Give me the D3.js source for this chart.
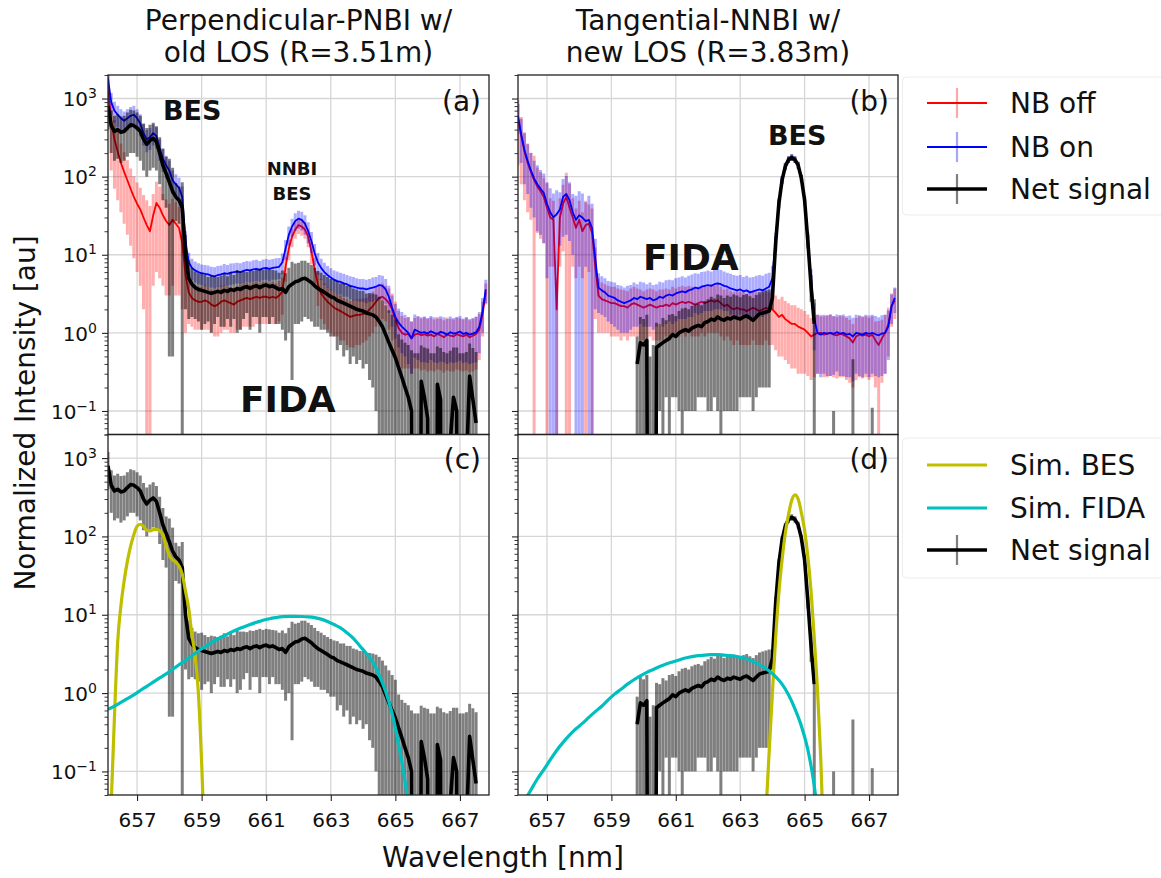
<!DOCTYPE html>
<html>
<head>
<meta charset="utf-8">
<script src="https://cdnjs.cloudflare.com/ajax/libs/d3/7.8.5/d3.min.js"></script>
<style>
  body { margin: 0; background: #fff; }
  svg text { font-family: "DejaVu Sans", sans-serif; fill: #111; }
</style>
</head>
<body>
<svg id="fig" width="1161" height="878"></svg>
<script>
// ---------------------------------------------------------------
// Spectral data (wavelength grid in nm, intensities in a.u.)
// ---------------------------------------------------------------
const wavelength = [
  656.1, 656.2, 656.3, 656.4, 656.5, 656.6, 656.7, 656.8, 656.9, 657.0,
  657.1, 657.2, 657.3, 657.4, 657.5, 657.6, 657.7, 657.8, 657.9, 658.0,
  658.1, 658.2, 658.3, 658.4, 658.5, 658.6, 658.7, 658.8, 658.9, 659.0,
  659.1, 659.2, 659.3, 659.4, 659.5, 659.6, 659.7, 659.8, 659.9, 660.0,
  660.1, 660.2, 660.3, 660.4, 660.5, 660.6, 660.7, 660.8, 660.9, 661.0,
  661.1, 661.2, 661.3, 661.4, 661.5, 661.6, 661.7, 661.8, 661.9, 662.0,
  662.1, 662.2, 662.3, 662.4, 662.5, 662.6, 662.7, 662.8, 662.9, 663.0,
  663.1, 663.2, 663.3, 663.4, 663.5, 663.6, 663.7, 663.8, 663.9, 664.0,
  664.1, 664.2, 664.3, 664.4, 664.5, 664.6, 664.7, 664.8, 664.9, 665.0,
  665.1, 665.2, 665.3, 665.4, 665.5, 665.6, 665.7, 665.8, 665.9, 666.0,
  666.1, 666.2, 666.3, 666.4, 666.5, 666.6, 666.7, 666.8, 666.9, 667.0,
  667.1, 667.2, 667.3, 667.4, 667.5, 667.6, 667.7, 667.8
];

// Perpendicular-PNBI view, old LOS (R=3.51m)
const nbOffPerp = [
  1500, 500, 300, 210, 150, 115, 90, 70, 55, 45,
  38, 30, 24, 20, 32, 46, 40, 32, 27, 24,
  28, 25, 22, 14, 5.5, 3.3, 2.8, 2.6, 2.5, 2.5,
  2.6, 2.5, 2.3, 2.2, 2.3, 2.5, 2.6, 2.5, 2.4, 2.3,
  2.5, 2.6, 2.7, 2.8, 2.7, 2.8, 2.9, 2.8, 2.9, 2.9,
  2.8, 2.9, 2.8, 3.0, 3.4, 7, 12, 17, 21, 24,
  23, 21, 17, 11, 6.5, 4.2, 3.2, 2.8, 2.5, 2.3,
  2.1, 2.0, 1.9, 1.8, 1.7, 1.6, 1.65, 1.7, 1.7, 1.75,
  1.8, 2.0, 2.2, 2.5, 2.8, 2.9, 2.7, 2.4, 2.0, 1.5,
  1.15, 1.0, 0.95, 0.97, 0.85, 0.95, 0.98, 0.93, 0.96, 0.92,
  0.95, 0.9, 0.97, 0.93, 0.88, 0.95, 0.92, 0.9, 0.96, 0.93,
  0.9, 0.95, 0.88, 0.92, 0.97, 1.1, 1.7, 3.3
];
const nbOffPerpErr = [
  700, 380, 230, 160, 115, 90, 72, 57, 46, 39,
  34, 28, 26, 22, 28, 40, 35, 28, 24, 21,
  24, 22, 19, 12, 4.5, 2.0, 1.6, 1.5, 1.4, 1.4,
  1.5, 1.4, 1.3, 1.3, 1.4, 1.5, 1.5, 1.4, 1.4, 1.3,
  1.4, 1.5, 1.5, 1.6, 1.5, 1.6, 1.6, 1.5, 1.6, 1.6,
  1.5, 1.6, 1.5, 1.6, 1.7, 2.5, 3.5, 4.5, 5, 5.5,
  5.5, 5, 4.5, 3.5, 2.5, 2, 1.7, 1.5, 1.4, 1.3,
  1.2, 1.1, 1.1, 1.0, 1.0, 0.95, 1.0, 1.0, 1.0, 1.0,
  1.0, 1.1, 1.2, 1.3, 1.4, 1.4, 1.3, 1.3, 1.2, 1.0,
  0.75, 0.65, 0.6, 0.62, 0.55, 0.6, 0.63, 0.6, 0.62, 0.6,
  0.62, 0.58, 0.63, 0.6, 0.57, 0.62, 0.6, 0.58, 0.62, 0.6,
  0.58, 0.62, 0.57, 0.6, 0.63, 0.65, 0.8, 1.0
];
const nbOnPerp = [
  1800, 900, 700, 620, 560, 520, 560, 600, 620, 560,
  480, 360, 300, 320, 360, 330, 230, 170, 140, 120,
  90, 80, 72, 55, 15, 8, 6.8, 6.3, 6.0, 5.8,
  5.7, 5.6, 5.4, 5.3, 5.5, 5.6, 5.8, 5.7, 5.9, 6.0,
  6.1, 6.0, 6.2, 6.4, 6.3, 6.5, 6.6, 6.4, 6.7, 6.8,
  6.6, 6.8, 6.9, 7.0, 8, 12, 18, 23, 27, 29,
  28, 25, 20, 15, 10.5, 8, 6.8, 6.0, 5.5, 5.1,
  4.8, 4.6, 4.5, 4.3, 4.2, 4.0, 3.9, 3.8, 3.7, 3.7,
  3.6, 3.7, 3.8, 3.9, 4.1, 4.0, 3.6, 2.9, 2.1, 1.6,
  1.35, 1.2, 1.1, 1.0, 0.85, 1.1, 1.05, 1.0, 1.02, 0.98,
  1.05, 1.0, 0.97, 1.03, 1.0, 0.95, 1.02, 0.98, 1.0, 1.04,
  0.97, 1.0, 0.95, 0.98, 1.02, 1.2, 1.9, 3.6
];
const nbOnPerpErr = [
  600, 280, 210, 190, 170, 160, 170, 180, 190, 170,
  150, 110, 95, 100, 110, 100, 70, 55, 45, 40,
  30, 27, 25, 20, 5, 2.6, 2.1, 1.9, 1.8, 1.7,
  1.7, 1.7, 1.6, 1.6, 1.7, 1.7, 1.8, 1.7, 1.8, 1.8,
  1.8, 1.8, 1.9, 1.9, 1.9, 2.0, 2.0, 1.9, 2.0, 2.0,
  2.0, 2.0, 2.1, 2.1, 2.4, 3.5, 5, 6, 7, 7.5,
  7.5, 7, 6, 4.5, 3.2, 2.5, 2.1, 1.9, 1.7, 1.6,
  1.5, 1.5, 1.4, 1.4, 1.3, 1.3, 1.3, 1.2, 1.2, 1.2,
  1.2, 1.2, 1.3, 1.3, 1.4, 1.4, 1.3, 1.1, 0.9, 0.75,
  0.7, 0.65, 0.6, 0.6, 0.55, 0.62, 0.6, 0.58, 0.6, 0.57,
  0.6, 0.58, 0.56, 0.6, 0.58, 0.55, 0.6, 0.57, 0.58, 0.6,
  0.56, 0.58, 0.55, 0.57, 0.6, 0.65, 0.9, 1.2
];
const netPerp = [
  800, 450, 380, 400, 370, 380, 420, 460, 450, 420,
  380, 300, 260, 290, 310, 280, 200, 140, 110, 85,
  65, 55, 50, 40, 10, 5, 4.2, 3.8, 3.6, 3.5,
  3.4, 3.3, 3.2, 3.3, 3.4, 3.3, 3.5, 3.4, 3.6, 3.5,
  3.7, 3.6, 3.8, 3.9, 3.7, 3.9, 4.0, 3.8, 4.0, 4.1,
  3.9, 4.0, 3.8, 3.6, 3.7, 3.3, 3.9, 4.2, 4.5, 4.6,
  4.9, 5.0, 4.7, 4.4, 4.0, 3.7, 3.5, 3.3, 3.1, 2.9,
  2.8, 2.6, 2.5, 2.4, 2.3, 2.2, 2.1, 2.0, 1.95, 1.9,
  1.8, 1.75, 1.7, 1.6, 1.4, 1.2, 0.95, 0.75, 0.6, 0.48,
  0.36, 0.27, 0.2, 0.15, 0.1, -0.05, -0.1, 0.24, 0.15, 0.08,
  -0.1, -0.05, 0.22, 0.14, -0.08, -0.05, 0.04, 0.15, 0.1, -0.1,
  -0.05, 0.02, 0.28, 0.14, 0.07, null, null, null
];
const netPerpErr = [
  400, 250, 220, 230, 220, 220, 240, 260, 250, 240,
  220, 180, 160, 170, 180, 160, 120, 90, 70, 84.5,
  64.5, 28, 25, 45, 8, 3.5, 2.6, 2.3, 2.2, 2.4,
  2.1, 1.9, 2.2, 2.0, 1.8, 2.1, 2.3, 1.9, 2.4, 2.0,
  2.7, 2.5, 2.3, 2.1, 2.6, 2.3, 2.4, 2.8, 2.4, 2.5,
  2.6, 2.4, 2.5, 2.3, 2.6, 2.5, 2.9, 3.95, 3.2, 3.3,
  3.5, 3.4, 3.2, 3.0, 2.8, 2.5, 2.4, 2.2, 2.1, 2.0,
  1.9, 2.0, 1.8, 1.9, 1.7, 1.8, 1.6, 1.6, 1.5, 1.55,
  1.4, 1.5, 1.5, 1.5, 1.5, 1.4, 1.3, 1.2, 1.1, 1.0,
  0.6, 0.55, 0.55, 0.55, 0.5, 0.6, 0.65, 0.45, 0.5, 0.55,
  0.65, 0.6, 0.45, 0.5, 0.65, 0.6, 0.55, 0.5, 0.55, 0.65,
  0.6, 0.55, 0.45, 0.5, 0.5, null, null, null
];

// Tangential-NNBI view, new LOS (R=3.83m)
const nbOffTang = [
  550, 330, 210, 150, 115, 90, 75, 65, 55, 40,
  30, 28, 2.0, 30, 45, 55, 40, 30, 22, 28,
  20, 24, 25, 19, 7, 3.0, 2.7, 2.6, 2.5, 2.4,
  2.4, 2.3, 2.2, 2.2, 2.1, 2.3, 2.4, 2.3, 2.2, 2.1,
  2.2, 2.3, 2.2, 2.1, 2.2, 2.2, 2.3, 2.2, 2.4, 2.3,
  2.4, 2.5, 2.4, 2.5, 2.4, 2.3, 2.4, 2.5, 2.4, 2.5,
  2.6, 2.5, 2.6, 2.4, 2.2, 2.3, 2.1, 2.0, 2.1, 2.0,
  2.0, 1.9, 2.0, 2.1, 2.0, 1.9, 2.0, 2.1, 2.0, 2.0,
  1.8, 1.6, 1.7, 1.5, 1.4, 1.3, 1.3, 1.2, 1.15, 1.1,
  1.0, 0.9, 0.95, 1.0, 1.0, 0.95, 0.97, 1.0, 0.95, 0.93,
  0.97, 0.95, 0.9, 0.85, 0.75, 0.9, 0.95, 0.92, 0.95, 0.9,
  0.95, 0.8, 0.7, 0.85, 1.0, 1.3, 2.2, 2.6
];
const nbOffTangErr = [
  410, 250, 160, 115, 87, 95, 56, 49, 41, 42,
  23, 21, 3.0, 23, 34, 57, 41, 23, 17, 21,
  15, 25, 19, 20, 5.5, 2.0, 1.7, 1.6, 1.5, 1.5,
  1.5, 1.4, 1.4, 1.3, 1.3, 1.4, 1.5, 1.4, 1.4, 1.3,
  1.4, 1.4, 1.4, 1.3, 1.4, 1.4, 1.4, 1.4, 1.5, 1.4,
  1.5, 1.5, 1.5, 1.5, 1.5, 1.4, 1.5, 1.5, 1.5, 1.5,
  1.6, 1.5, 1.6, 1.5, 1.4, 1.4, 1.3, 1.3, 1.3, 1.3,
  1.3, 1.2, 1.3, 1.3, 1.3, 1.2, 1.3, 1.3, 1.3, 1.3,
  1.2, 1.1, 1.2, 1.05, 1.0, 0.95, 0.95, 0.9, 0.85, 0.8,
  0.72, 0.65, 0.68, 0.7, 0.7, 0.68, 0.7, 0.72, 0.68, 0.67,
  0.7, 0.68, 0.65, 0.62, 0.55, 0.65, 0.68, 0.66, 0.68, 0.65,
  0.68, 0.6, 0.72, 0.62, 0.7, 0.8, 1.0, 1.1
];
const nbOnTang = [
  600, 350, 220, 160, 120, 95, 80, 70, 62, 45,
  35, 30, 33, 38, 55, 60, 50, 35, 28, 32,
  30, 27, 28, 22, 9, 3.8, 3.5, 3.3, 3.0, 2.9,
  2.8, 2.6, 2.5, 2.4, 2.5, 2.6, 2.8, 2.7, 2.9, 2.8,
  2.7, 2.8, 2.6, 2.7, 2.9, 2.8, 3.0, 3.1, 3.0, 3.2,
  3.3, 3.4, 3.3, 3.5, 3.6, 3.8, 3.7, 3.9, 4.0, 4.1,
  4.0, 4.2, 4.3, 4.2, 4.0, 3.9, 3.7, 3.6, 3.5, 3.6,
  3.4, 3.5, 3.3, 3.4, 3.5, 3.6, 3.5, 3.7, 3.9, 5.0,
  16, 47, 92, 137, 167, 177, 167, 141, 96, 51,
  16, 5, 1.5, 1.0, 0.95, 1.0, 0.98, 1.0, 0.97, 1.02,
  0.98, 1.0, 0.95, 0.97, 0.9, 1.0, 0.98, 0.95, 1.0, 0.97,
  1.0, 0.96, 0.93, 0.98, 1.0, 1.2, 2.2, 2.8
];
const nbOnTangErr = [
  250, 200, 140, 100, 80, 65, 60, 52, 48, 40,
  36, 31, 34, 25, 38, 42, 35, 25, 29, 33,
  31, 20, 29, 23, 7, 2.0, 1.8, 1.7, 1.6, 1.6,
  1.6, 1.5, 1.5, 1.4, 1.5, 1.5, 1.6, 1.5, 1.6, 1.6,
  1.5, 1.6, 1.5, 1.5, 1.6, 1.6, 1.7, 1.7, 1.7, 1.8,
  1.8, 1.9, 1.8, 1.9, 2.0, 2.0, 2.0, 2.1, 2.1, 2.2,
  2.1, 2.2, 2.3, 2.2, 2.1, 2.0, 2.0, 1.9, 1.9, 1.9,
  1.8, 1.9, 1.8, 1.8, 1.9, 1.9, 1.9, 2.0, 2.0, 2.2,
  3, 6, 10, 14, 17, 18, 17, 15, 11, 6,
  3, 1.5, 0.9, 0.7, 0.68, 0.7, 0.7, 0.72, 0.68, 0.7,
  0.7, 0.72, 0.68, 0.7, 0.66, 0.7, 0.7, 0.68, 0.7, 0.7,
  0.7, 0.68, 0.66, 0.7, 0.7, 0.75, 0.9, 1.0
];
const netTang = [
  null, null, null, null, null, null, null, null, null, null,
  null, null, null, null, null, null, null, null, null, null,
  null, null, null, null, null, null, null, null, null, null,
  null, null, null, null, null, null, null, 0.4, 0.75, 0.7,
  0.8, -0.2, -0.1, 0.65, 0.7, 0.75, 0.8, 0.85, 0.95, 0.9,
  1.0, 1.05, 1.1, 1.05, 1.15, 1.2, 1.25, 1.2, 1.35, 1.4,
  1.5, 1.45, 1.6, 1.5, 1.45, 1.55, 1.5, 1.6, 1.55, 1.5,
  1.6, 1.65, 1.55, 1.45, 1.6, 1.75, 1.8, 1.85, 1.9, 2.8,
  14, 45, 90, 135, 165, 175, 165, 140, 95, 50,
  15, 4, 1.3, null, null, null, null, null, -0.2, null,
  null, null, null, null, -0.1, null, null, null, null, null,
  -0.2, null, null, null, null, null, null, null
];
const netTangErr = [
  null, null, null, null, null, null, null, null, null, null,
  null, null, null, null, null, null, null, null, null, null,
  null, null, null, null, null, null, null, null, null, null,
  null, null, null, null, null, null, null, 0.5, 0.85, 0.8,
  0.9, 0.7, 0.8, 0.7, 0.6, 0.8, 0.65, 0.85, 0.8, 0.75,
  0.9, 1.0, 1.0, 0.95, 1.05, 1.1, 1.1, 1.05, 1.2, 1.3,
  1.4, 1.3, 1.5, 1.5, 1.35, 1.45, 1.4, 1.5, 1.45, 1.35,
  1.45, 1.5, 1.4, 1.35, 1.45, 1.55, 1.6, 1.65, 1.7, 0.8,
  3, 6, 10, 14, 16, 17, 16, 14, 10, 6,
  3, 1.5, 1.4, null, null, null, null, null, 0.3, null,
  null, null, null, null, 0.56, null, null, null, null, null,
  0.31, null, null, null, null, null, null, null
];

// Simulated spectra, perpendicular view
const simBesPerpWl = [
  656.2, 656.3, 656.4, 656.5, 656.6, 656.7, 656.8, 656.9, 657.0, 657.1,
  657.2, 657.3, 657.4, 657.5, 657.6, 657.7, 657.8, 657.9, 658.0, 658.1,
  658.2, 658.3, 658.4, 658.5, 658.6, 658.7, 658.8, 658.9, 659.0, 659.1
];
const simBesPerp = [
  0.04, 0.5, 4.5, 13, 27, 48, 75, 105, 135, 143,
  135, 120, 118, 122, 123, 118, 105, 75, 57, 50,
  47, 42, 33, 20, 12, 5.5, 3.0, 1.0, 0.13, 0.01
];
const simFidaPerpWl = [
  656.1, 656.3, 656.5, 656.7, 656.9, 657.1, 657.3, 657.5, 657.7, 657.9,
  658.1, 658.3, 658.5, 658.7, 658.9, 659.1, 659.3, 659.5, 659.7, 659.9,
  660.1, 660.3, 660.5, 660.7, 660.9, 661.1, 661.3, 661.5, 661.7, 661.9,
  662.1, 662.3, 662.5, 662.7, 662.9, 663.1, 663.3, 663.5, 663.7, 663.9,
  664.1, 664.3, 664.5, 664.7, 664.9, 665.1, 665.3, 665.4
];
const simFidaPerp = [
  0.62, 0.68, 0.76, 0.85, 0.95, 1.08, 1.22, 1.38, 1.56, 1.76,
  2.0, 2.3, 2.6, 3.0, 3.45, 3.9, 4.4, 4.9, 5.4, 5.95,
  6.5, 7.0, 7.5, 8.0, 8.5, 8.9, 9.2, 9.45, 9.55, 9.55,
  9.5, 9.4, 9.2, 8.8, 8.2, 7.5, 6.8, 5.9, 5.0, 4.0,
  3.2, 2.5, 1.7, 1.05, 0.55, 0.22, 0.075, 0.04
];

// Simulated spectra, tangential view
const simBesTangWl = [
  663.8, 663.9, 664.0, 664.1, 664.2, 664.3, 664.4, 664.5, 664.6, 664.7,
  664.8, 664.9, 665.0, 665.1, 665.2, 665.3, 665.4, 665.5, 665.6
];
const simBesTang = [
  0.03, 0.18, 1.0, 5, 19, 50, 110, 190, 290, 340,
  300, 200, 120, 55, 20, 5, 1.1, 0.15, 0.01
];
const simFidaTangWl = [
  656.3, 656.5, 656.7, 656.9, 657.1, 657.3, 657.5, 657.7, 657.9, 658.1,
  658.3, 658.5, 658.7, 658.9, 659.1, 659.3, 659.5, 659.7, 659.9, 660.1,
  660.3, 660.5, 660.7, 660.9, 661.1, 661.3, 661.5, 661.7, 661.9, 662.1,
  662.3, 662.5, 662.7, 662.9, 663.1, 663.3, 663.5, 663.7, 663.9, 664.1,
  664.3, 664.5, 664.7, 664.9, 665.1, 665.3, 665.4
];
const simFidaTang = [
  0.042, 0.058, 0.08, 0.105, 0.14, 0.185, 0.235, 0.29, 0.35, 0.41,
  0.49, 0.58, 0.68, 0.82, 0.97, 1.12, 1.3, 1.48, 1.66, 1.84,
  2.0, 2.18, 2.35, 2.5, 2.65, 2.8, 2.92, 3.0, 3.05, 3.1,
  3.1, 3.05, 3.0, 2.92, 2.8, 2.62, 2.42, 2.2, 1.92, 1.62,
  1.3, 0.95, 0.63, 0.38, 0.19, 0.065, 0.03
];

// Axis ticks and labels
const xTickValues = [657, 659, 661, 663, 665, 667];
const yTickValues = [0.1, 1, 10, 100, 1000];
const panelTitles = [
  ["Perpendicular-PNBI w/", "old LOS (R=3.51m)"],
  ["Tangential-NNBI w/", "new LOS (R=3.83m)"]
];
const legendTop = ["NB off", "NB on", "Net signal"];
const legendBottom = ["Sim. BES", "Sim. FIDA", "Net signal"];

// ---------------------------------------------------------------
// Layout and styling
// ---------------------------------------------------------------
const X_DOMAIN = [656.1, 667.9];
const Y_DOMAIN = [0.05, 2000];
const boxes = {
  a: { x0: 108, x1: 489, y0: 75, y1: 434.5 },
  b: { x0: 518, x1: 898, y0: 75, y1: 434.5 },
  c: { x0: 108, x1: 489, y0: 434.5, y1: 795 },
  d: { x0: 518, x1: 898, y0: 434.5, y1: 795 }
};
const COLORS = { off: "#ff0000", on: "#0000ff", net: "#000000", bes: "#bfbf00", fida: "#00bfbf" };
const BAR_W = 3.0;

const yMinorTicks = [];
for (let e = -2; e <= 3; e++) {
  for (let k = 2; k <= 9; k++) {
    const v = k * Math.pow(10, e);
    if (v >= Y_DOMAIN[0] && v <= Y_DOMAIN[1]) yMinorTicks.push(v);
  }
}

const svg = d3.select("#fig");
svg.append("rect").attr("width", 1161).attr("height", 878).attr("fill", "#fff");
const defs = svg.append("defs");

function toPoints(wl, vals, errs) {
  return wl.map((w, i) => ({ w, v: vals[i], e: errs ? errs[i] : null }));
}

function makePanel(key) {
  const b = boxes[key];
  const x = d3.scaleLinear().domain(X_DOMAIN).range([b.x0, b.x1]);
  const y = d3.scaleLog().domain(Y_DOMAIN).range([b.y1, b.y0]);
  const g = svg.append("g").attr("class", "panel-" + key);
  defs.append("clipPath").attr("id", "clip-" + key)
    .append("rect").attr("x", b.x0).attr("y", b.y0)
    .attr("width", b.x1 - b.x0).attr("height", b.y1 - b.y0);

  const grid = g.append("g").attr("stroke", "#d6d6d6").attr("stroke-width", 1.3);
  grid.selectAll(null).data(xTickValues).join("line")
    .attr("x1", d => x(d)).attr("x2", d => x(d)).attr("y1", b.y0).attr("y2", b.y1);
  grid.selectAll(null).data(yTickValues).join("line")
    .attr("x1", b.x0).attr("x2", b.x1).attr("y1", d => y(d)).attr("y2", d => y(d));

  const plot = g.append("g").attr("clip-path", `url(#clip-${key})`);
  return { key, b, x, y, g, plot };
}

function errorBars(p, pts, color, opacity, width) {
  const bottom = p.b.y1 + 20;
  p.plot.append("g").selectAll(null)
    .data(pts.filter(d => d.v != null && d.e != null && d.v + d.e > 0))
    .join("line")
    .attr("x1", d => p.x(d.w)).attr("x2", d => p.x(d.w))
    .attr("y1", d => (d.v - d.e > 0 ? p.y(d.v - d.e) : bottom))
    .attr("y2", d => p.y(d.v + d.e))
    .attr("stroke", color).attr("stroke-opacity", opacity).attr("stroke-width", width);
}

function dataLine(p, pts, color, width, curve) {
  const gen = d3.line()
    .defined(d => d.v != null)
    .x(d => p.x(d.w))
    .y(d => p.y(Math.max(d.v, 1e-12)));
  if (curve) gen.curve(curve);
  p.plot.append("path").datum(pts).attr("d", gen)
    .attr("fill", "none").attr("stroke", color).attr("stroke-width", width)
    .attr("stroke-linejoin", "round").attr("stroke-linecap", "butt");
}

function axes(p, showYLabels, showXLabels) {
  const b = p.b;
  // major y ticks
  const ay = p.g.append("g").attr("transform", `translate(${b.x0},0)`)
    .call(d3.axisLeft(p.y).tickValues(yTickValues).tickSize(6).tickPadding(5).tickFormat(""));
  ay.select(".domain").remove();
  ay.selectAll(".tick line").attr("stroke", "#222").attr("stroke-width", 1.1);
  if (showYLabels) {
    ay.selectAll(".tick text").each(function (d) {
      const t = d3.select(this);
      const ex = Math.round(Math.log10(d));
      t.text(null).attr("font-size", 20).attr("dy", "0.36em")
        .attr("font-family", "DejaVu Sans").attr("fill", "#111");
      t.append("tspan").text("10");
      t.append("tspan").attr("dy", "-8").attr("font-size", 14)
        .text(ex < 0 ? "\u2212" + Math.abs(ex) : String(ex));
    });
  } else {
    ay.selectAll(".tick text").remove();
  }
  // minor y ticks
  const am = p.g.append("g").attr("transform", `translate(${b.x0},0)`)
    .call(d3.axisLeft(p.y).tickValues(yMinorTicks).tickSize(3.5).tickFormat(""));
  am.select(".domain").remove();
  am.selectAll(".tick text").remove();
  am.selectAll(".tick line").attr("stroke", "#222").attr("stroke-width", 0.9);

  if (showXLabels) {
    const ax = p.g.append("g").attr("transform", `translate(0,${b.y1})`)
      .call(d3.axisBottom(p.x).tickValues(xTickValues).tickSize(6).tickPadding(12).tickFormat(d3.format("d")));
    ax.select(".domain").remove();
    ax.selectAll(".tick line").attr("stroke", "#222").attr("stroke-width", 1.1);
    ax.selectAll(".tick text").attr("font-size", 20).attr("font-family", "DejaVu Sans").attr("fill", "#111");
  }
  // spines
  p.g.append("rect").attr("x", b.x0).attr("y", b.y0)
    .attr("width", b.x1 - b.x0).attr("height", b.y1 - b.y0)
    .attr("fill", "none").attr("stroke", "#222").attr("stroke-width", 1.3);
}

function label(p, text, xPos, yPos, opts = {}) {
  p.g.append("text").attr("x", xPos).attr("y", yPos)
    .attr("font-size", opts.size || 28)
    .attr("font-weight", opts.bold ? "bold" : "normal")
    .attr("text-anchor", opts.anchor || "start")
    .text(text);
}

// ---------------------------------------------------------------
// Panels
// ---------------------------------------------------------------
const pa = makePanel("a"), pb = makePanel("b"), pc = makePanel("c"), pd = makePanel("d");

const offPerp = toPoints(wavelength, nbOffPerp, nbOffPerpErr);
const onPerp = toPoints(wavelength, nbOnPerp, nbOnPerpErr);
const netP = toPoints(wavelength, netPerp, netPerpErr);
const offTang = toPoints(wavelength, nbOffTang, nbOffTangErr);
const onTang = toPoints(wavelength, nbOnTang, nbOnTangErr);
const netT = toPoints(wavelength, netTang, netTangErr);

// (a) and (b): NB off, NB on and net signal
[[pa, offPerp, onPerp, netP], [pb, offTang, onTang, netT]].forEach(([p, off, on, net]) => {
  errorBars(p, off, COLORS.off, 0.32, BAR_W);
  dataLine(p, off, COLORS.off, 1.8);
  errorBars(p, on, COLORS.on, 0.32, BAR_W);
  dataLine(p, on, COLORS.on, 1.8);
  errorBars(p, net, COLORS.net, 0.5, BAR_W);
  dataLine(p, net, COLORS.net, 3.6);
});

// (c) and (d): simulated BES / FIDA against the net signal
[[pc, netP, simBesPerpWl, simBesPerp, simFidaPerpWl, simFidaPerp],
 [pd, netT, simBesTangWl, simBesTang, simFidaTangWl, simFidaTang]].forEach(([p, net, bw, bv, fw, fv]) => {
  errorBars(p, net, COLORS.net, 0.5, BAR_W);
  dataLine(p, net, COLORS.net, 3.6);
  dataLine(p, toPoints(bw, bv), COLORS.bes, 3.2, d3.curveMonotoneX);
  dataLine(p, toPoints(fw, fv), COLORS.fida, 3.2, d3.curveMonotoneX);
});

axes(pa, true, false);
axes(pb, false, false);
axes(pc, true, true);
axes(pd, false, true);

// panel tags
label(pa, "(a)", 481, 111, { anchor: "end" });
label(pb, "(b)", 889, 111, { anchor: "end" });
label(pc, "(c)", 481, 469, { anchor: "end" });
label(pd, "(d)", 889, 469, { anchor: "end" });

// spectral feature annotations
label(pa, "BES", 163, 120, { bold: true, size: 27 });
label(pa, "NNBI", 292, 175, { bold: true, size: 18, anchor: "middle" });
label(pa, "BES", 292, 200, { bold: true, size: 18, anchor: "middle" });
label(pa, "FIDA", 240, 412, { bold: true, size: 36 });
label(pb, "BES", 768, 145, { bold: true, size: 27 });
label(pb, "FIDA", 643, 270, { bold: true, size: 36 });

// column titles
[[boxes.a, panelTitles[0]], [boxes.b, panelTitles[1]]].forEach(([b, lines]) => {
  const cx = (b.x0 + b.x1) / 2;
  lines.forEach((t, i) => {
    svg.append("text").attr("x", cx).attr("y", 30 + i * 32)
      .attr("text-anchor", "middle").attr("font-size", 28).text(t);
  });
});

// axis titles
svg.append("text").attr("transform", "translate(35,413) rotate(-90)")
  .attr("text-anchor", "middle").attr("font-size", 28).text("Normalized Intensity [au]");
svg.append("text").attr("x", 503).attr("y", 867)
  .attr("text-anchor", "middle").attr("font-size", 28).text("Wavelength [nm]");

// ---------------------------------------------------------------
// Legends
// ---------------------------------------------------------------
function legend(y0, frameH, rows) {
  const g = svg.append("g");
  g.append("rect").attr("x", 902.5).attr("y", y0).attr("width", 300).attr("height", frameH)
    .attr("rx", 4).attr("fill", "#fff").attr("stroke", "#ededed").attr("stroke-width", 1);
  rows.forEach(r => {
    if (r.bar) {
      g.append("line").attr("x1", 957).attr("x2", 957).attr("y1", r.y - 15).attr("y2", r.y + 15)
        .attr("stroke", r.color).attr("stroke-opacity", r.barOpacity).attr("stroke-width", 2.2);
    }
    g.append("line").attr("x1", 927).attr("x2", 987).attr("y1", r.y).attr("y2", r.y)
      .attr("stroke", r.color).attr("stroke-width", r.width);
    g.append("text").attr("x", 1010).attr("y", r.y + 10).attr("font-size", 28).text(r.text);
  });
}
legend(77, 138, [
  { y: 103, color: COLORS.off, width: 2, bar: true, barOpacity: 0.35, text: legendTop[0] },
  { y: 147, color: COLORS.on, width: 2, bar: true, barOpacity: 0.35, text: legendTop[1] },
  { y: 189, color: COLORS.net, width: 3.6, bar: true, barOpacity: 0.5, text: legendTop[2] }
]);
legend(438, 140, [
  { y: 465, color: COLORS.bes, width: 3.2, bar: false, text: legendBottom[0] },
  { y: 508, color: COLORS.fida, width: 3.2, bar: false, text: legendBottom[1] },
  { y: 550, color: COLORS.net, width: 3.6, bar: true, barOpacity: 0.5, text: legendBottom[2] }
]);
</script>
</body>
</html>
